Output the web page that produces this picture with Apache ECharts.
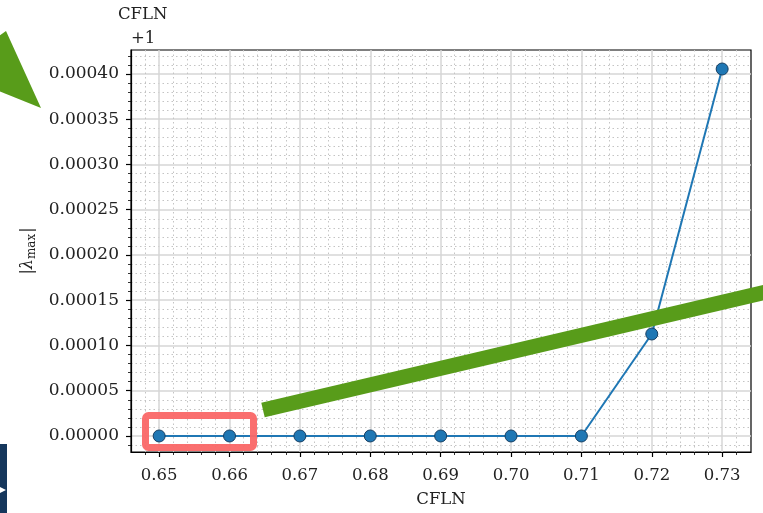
<!DOCTYPE html>
<html>
<head>
<meta charset="utf-8">
<script src="https://cdn.jsdelivr.net/npm/echarts@6/dist/echarts.min.js"></script>
<style>
  html, body { margin: 0; padding: 0; background: #ffffff; }
  #chart { width: 763px; height: 513px; }
</style>
</head>
<body>
<div id="chart"></div>
<script>
// Courant number sweep
const cfln = [0.65, 0.66, 0.67, 0.68, 0.69, 0.70, 0.71, 0.72, 0.73];
// |lambda_max| minus 1 (the axis carries a "+1" offset)
const lambdaOffset = [0, 0, 0, 0, 0, 0, 0, 0.0001127, 0.0004055];

// axis ticks
const xTicks = [0.65, 0.66, 0.67, 0.68, 0.69, 0.70, 0.71, 0.72, 0.73];
const yTicks = [0, 0.00005, 0.0001, 0.00015, 0.0002, 0.00025, 0.0003, 0.00035, 0.0004];

const X_MIN = 0.646, X_MAX = 0.7341;
const Y_MIN = -0.0000177, Y_MAX = 0.0004265;

// minor ticks: five subdivisions per major step, kept inside the axis range
function minorValues(major, lo, hi) {
  const step = (major[1] - major[0]) / 5;
  const out = [];
  const first = major[0] - 5 * step;
  for (let i = 0; i <= (major.length + 1) * 5; i++) {
    const v = first + i * step;
    if (i % 5 === 0) continue;
    if (v > lo + step * 0.05 && v < hi - step * 0.05) out.push(+v.toFixed(8));
  }
  return out;
}
const xMinor = minorValues(xTicks, X_MIN, X_MAX);
const yMinor = minorValues(yTicks, Y_MIN, Y_MAX);

const FONT = '"DejaVu Serif", serif';
const GREEN = '#589c1a';

const chart = echarts.init(document.getElementById('chart'), null, { renderer: 'canvas' });

const minorAxis = (vals, pos, lo, hi) => ({
  type: 'value', position: pos, min: lo, max: hi,
  axisLine: { show: false, onZero: false },
  axisTick: { show: true, customValues: vals, length: 3, lineStyle: { color: '#000', width: 0.8 } },
  axisLabel: { show: false },
  splitLine: { show: true, customValues: vals, lineStyle: { color: '#c4c4c4', width: 1, type: [1.5, 3] } }
});

chart.setOption({
  animation: false,
  backgroundColor: '#ffffff',
  grid: {
    left: 131, right: 12, top: 50, bottom: 61,
    outerBoundsMode: 'none', containLabel: false,
    show: true, borderColor: '#000', borderWidth: 1.2, backgroundColor: 'transparent'
  },
  xAxis: [
    minorAxis(xMinor, 'bottom', X_MIN, X_MAX),
    {
      type: 'value', position: 'bottom', min: X_MIN, max: X_MAX,
      axisLine: { show: true, onZero: false, lineStyle: { color: '#000', width: 1.2 } },
      axisTick: { show: true, customValues: xTicks, length: 5, lineStyle: { color: '#000', width: 1.2 } },
      axisLabel: {
        customValues: xTicks, formatter: v => v.toFixed(2),
        fontFamily: FONT, fontSize: 16.5, color: '#222', margin: 15
      },
      splitLine: { show: true, customValues: xTicks, lineStyle: { color: '#d6d6d6', width: 1.5 } },
      name: 'CFLN', nameLocation: 'middle', nameGap: 39,
      nameTextStyle: { fontFamily: FONT, fontSize: 16.5, color: '#222' }
    }
  ],
  yAxis: [
    minorAxis(yMinor, 'left', Y_MIN, Y_MAX),
    {
      type: 'value', position: 'left', min: Y_MIN, max: Y_MAX,
      axisLine: { show: true, onZero: false, lineStyle: { color: '#000', width: 1.2 } },
      axisTick: { show: true, customValues: yTicks, length: 5, lineStyle: { color: '#000', width: 1.2 } },
      axisLabel: {
        customValues: yTicks, formatter: v => v.toFixed(5),
        fontFamily: FONT, fontSize: 17, color: '#222', margin: 12
      },
      splitLine: { show: true, customValues: yTicks, lineStyle: { color: '#d6d6d6', width: 1.5 } },
      name: '{t||}{l|λ}{s|max}{t||}',
      nameLocation: 'middle', nameRotate: 90, nameGap: 87,
      nameTextStyle: {
        rich: {
          t: { fontFamily: FONT, fontSize: 16, color: '#222' },
          l: { fontFamily: FONT, fontSize: 16, fontStyle: 'italic', color: '#222' },
          s: { fontFamily: FONT, fontSize: 12, color: '#222', padding: [7, 1, 0, 0] }
        }
      }
    }
  ],
  series: [{
    type: 'line',
    xAxisIndex: 1, yAxisIndex: 1,
    data: cfln.map((c, i) => [c, lambdaOffset[i]]),
    symbol: 'circle', symbolSize: 12,
    lineStyle: { color: '#1f77b4', width: 2 },
    itemStyle: { color: '#1f77b4', borderColor: '#163f63', borderWidth: 1 },
    z: 3
  }],
  graphic: [
    { type: 'text', left: 118, top: 6, style: { text: 'CFLN', font: '16.5px "DejaVu Serif"', fill: '#222' }, z: 10 },
    { type: 'text', left: 131, top: 30, style: { text: '+1', font: '16.5px "DejaVu Serif"', fill: '#222' }, z: 10 },
    { type: 'polygon', shape: { points: [[-4, 38], [6, 31], [41, 108], [-4, 90]] }, style: { fill: GREEN }, z: 20 },
    { type: 'line', shape: { x1: 263, y1: 410, x2: 775, y2: 290 }, style: { stroke: GREEN, lineWidth: 15, lineCap: 'butt' }, z: 20 },
    { type: 'rect', shape: { x: 145.5, y: 415.5, width: 108, height: 32, r: 3 }, style: { fill: 'none', stroke: '#fa6767', lineWidth: 7, opacity: 0.95 }, z: 20 },
    { type: 'rect', shape: { x: 0, y: 444, width: 7, height: 69 }, style: { fill: '#15375c' }, z: 20 },
    { type: 'polygon', shape: { points: [[0, 487], [6, 490], [0, 493]] }, style: { fill: '#ffffff' }, z: 21 }
  ]
});
</script>
</body>
</html>
